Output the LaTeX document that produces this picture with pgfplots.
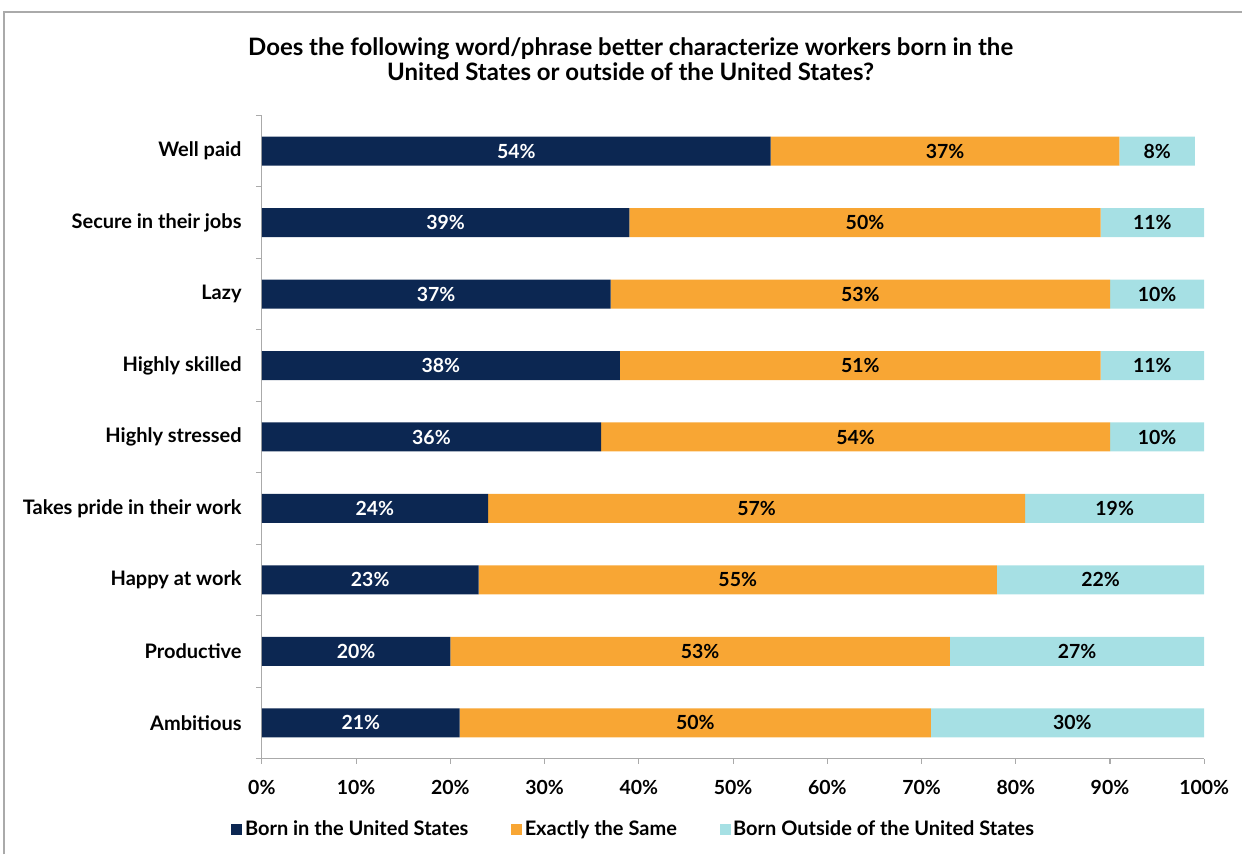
\documentclass[border=0pt]{standalone}
\usepackage{pgfplots}
\pgfplotsset{compat=1.18}
\usepackage{fontspec}
\setmainfont{Lato}
\definecolor{cnavy}{RGB}{12,39,82}
\definecolor{corange}{RGB}{248,166,52}
\definecolor{cteal}{RGB}{166,224,228}
\definecolor{cframe}{RGB}{170,170,170}
\begin{document}
\begin{tikzpicture}[x=0.75pt,y=0.75pt]
\path (0,0) rectangle (1243,855);
\draw[cframe, line width=1.2pt] (4,0) -- (4,843) -- (1243,843);
\node[align=center, font=\bfseries\fontsize{18pt}{18.75pt}\selectfont, inner sep=0pt] at (631,795.5)
  {Does the following word/phrase better characterize workers born in the\\United States or outside of the United States?};
\pgfplotsset{common/.style={
  scale only axis, width=707.25pt, height=482.6pt,
  at={(196.5pt,72pt)}, anchor=south west,
  xmin=0, xmax=100, ymin=-0.5, ymax=8.5,
}}
\begin{axis}[common,
  xbar stacked, bar width=21.75pt,
  axis x line*=bottom, axis y line*=left,
  axis line style={draw=cframe, line width=0.8pt, -},
  tick align=outside,
  major tick length=4pt,
  minor tick length=4.5pt,
  xtick={0,10,...,100},
  xticklabels={0\%,10\%,20\%,30\%,40\%,50\%,60\%,70\%,80\%,90\%,100\%},
  xtick style={draw=cframe, line width=0.8pt},
  ytick={0,...,8},
  yticklabels={Ambitious,Productive,Happy at work,Takes pride in their work,Highly stressed,Highly skilled,Lazy,Secure in their jobs,Well paid},
  ytick style={draw=none},
  minor ytick={-0.5,0.5,...,8.5},
  minor y tick style={draw=cframe, line width=0.8pt},
  xticklabel style={font=\bfseries\fontsize{14.6pt}{16pt}\selectfont, inner sep=0pt, yshift=-12pt},
  yticklabel style={font=\bfseries\fontsize{15pt}{17pt}\selectfont, inner sep=0pt, xshift=-11pt},
  legend style={at={(axis description cs:0.395,-0.11)}, anchor=center, draw=none, fill=none,
    legend columns=3, font=\bfseries\fontsize{15pt}{17pt}\selectfont,
    /tikz/every even column/.append style={column sep=30pt},
    inner sep=0pt},
  legend image code/.code={\fill[#1] (0pt,-4.1pt) rectangle (8.25pt,4.1pt);},
]
\addplot[fill=cnavy, draw=none] coordinates {(21,0) (20,1) (23,2) (24,3) (36,4) (38,5) (37,6) (39,7) (54,8)};
\addplot[fill=corange, draw=none] coordinates {(50,0) (53,1) (55,2) (57,3) (54,4) (51,5) (53,6) (50,7) (37,8)};
\addplot[fill=cteal, draw=none] coordinates {(30,0) (27,1) (22,2) (19,3) (10,4) (11,5) (10,6) (11,7) (8,8)};
\legend{Born in the United States, Exactly the Same, Born Outside of the United States}
\end{axis}
\begin{axis}[common, hide axis,
  nodes near coords, point meta=explicit symbolic,
  every node near coord/.append style={anchor=center, font=\bfseries\fontsize{14.6pt}{16pt}\selectfont},
]
\addplot[draw=none, mark=none, nodes near coords style={text=white}] coordinates {
  (10.5,0) [21\%] (10,1) [20\%] (11.5,2) [23\%] (12,3) [24\%] (18,4) [36\%]
  (19,5) [38\%] (18.5,6) [37\%] (19.5,7) [39\%] (27,8) [54\%]};
\addplot[draw=none, mark=none, nodes near coords style={text=black}] coordinates {
  (46,0) [50\%] (46.5,1) [53\%] (50.5,2) [55\%] (52.5,3) [57\%] (63,4) [54\%]
  (63.5,5) [51\%] (63.5,6) [53\%] (64,7) [50\%] (72.5,8) [37\%]};
\addplot[draw=none, mark=none, nodes near coords style={text=black}] coordinates {
  (86,0) [30\%] (86.5,1) [27\%] (89,2) [22\%] (90.5,3) [19\%] (95,4) [10\%]
  (94.5,5) [11\%] (95,6) [10\%] (94.5,7) [11\%] (95,8) [8\%]};
\end{axis}
\end{tikzpicture}
\end{document}
